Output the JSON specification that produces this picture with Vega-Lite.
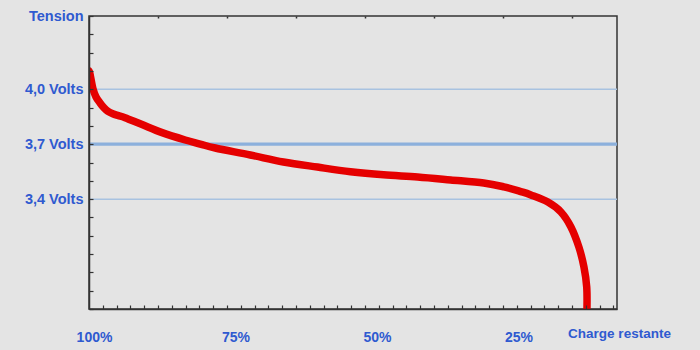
{
  "$schema": "https://vega.github.io/schema/vega-lite/v6.json",
  "width": 528,
  "height": 293,
  "autosize": {"type": "none"},
  "padding": {"left": 89, "top": 16, "right": 83, "bottom": 41},
  "background": "#e4e4e4",
  "view": {"stroke": "#333333", "strokeWidth": 1.5, "fill": "#e4e4e4"},
  "datasets": {
    "curve": [
      {"charge": 100, "volts": 4.100},
      {"charge": 99.82, "volts": 4.083},
      {"charge": 99.29, "volts": 4.001},
      {"charge": 98.76, "volts": 3.958},
      {"charge": 98.05, "volts": 3.925},
      {"charge": 97.34, "volts": 3.898},
      {"charge": 96.64, "volts": 3.879},
      {"charge": 95.80, "volts": 3.866},
      {"charge": 94.80, "volts": 3.856},
      {"charge": 93.63, "volts": 3.845},
      {"charge": 90.62, "volts": 3.807},
      {"charge": 87.08, "volts": 3.763},
      {"charge": 83.00, "volts": 3.723},
      {"charge": 80.35, "volts": 3.701},
      {"charge": 77.69, "volts": 3.679},
      {"charge": 71.50, "volts": 3.641},
      {"charge": 65.65, "volts": 3.603},
      {"charge": 59.63, "volts": 3.575},
      {"charge": 53.79, "volts": 3.550},
      {"charge": 47.95, "volts": 3.533},
      {"charge": 41.93, "volts": 3.521},
      {"charge": 36.09, "volts": 3.505},
      {"charge": 30.25, "volts": 3.488},
      {"charge": 26.70, "volts": 3.467},
      {"charge": 23.69, "volts": 3.441},
      {"charge": 21.92, "volts": 3.423},
      {"charge": 18.92, "volts": 3.384},
      {"charge": 16.61, "volts": 3.330},
      {"charge": 14.84, "volts": 3.248},
      {"charge": 13.43, "volts": 3.138},
      {"charge": 12.54, "volts": 3.029},
      {"charge": 12.05, "volts": 2.920},
      {"charge": 12.01, "volts": 2.790}
    ],
    "thinLines": [{"volts": 4.0}, {"volts": 3.4}],
    "thickLine": [{"volts": 3.7}]
  },
  "encoding": {
    "y": {
      "field": "volts",
      "type": "quantitative",
      "scale": {"domain": [2.8, 4.4], "nice": false, "zero": false},
      "axis": {
        "title": null,
        "grid": false,
        "values": [2.8, 2.9, 3.0, 3.1, 3.2, 3.3, 3.4, 3.5, 3.6, 3.7, 3.8, 3.9, 4.0, 4.1, 4.2, 4.3, 4.4],
        "labelExpr": "datum.value == 4.4 ? 'Tension' : datum.value == 4.0 ? '4,0 Volts' : datum.value == 3.7 ? '3,7 Volts' : datum.value == 3.4 ? '3,4 Volts' : ''",
        "tickSize": -4,
        "tickColor": "#333333",
        "tickWidth": 1.2,
        "domainColor": "#333333",
        "domainWidth": 1.5,
        "labelPadding": 10,
        "labelColor": "#2f5ad0",
        "labelFont": "Liberation Sans",
        "labelFontSize": 14.5,
        "labelFontWeight": "bold",
        "labelOverlap": false,
        "labelFlush": false,
        "labelBound": false,
        "zindex": 1
      }
    }
  },
  "layer": [
    {
      "data": {"name": "thinLines"},
      "mark": {"type": "rule", "color": "#a8c2e0", "strokeWidth": 1.5}
    },
    {
      "data": {"name": "thickLine"},
      "mark": {"type": "rule", "color": "#8cb0dc", "strokeWidth": 3.2}
    },
    {
      "data": {"name": "curve"},
      "mark": {"type": "line", "color": "#e50000", "strokeWidth": 7.5, "clip": true, "strokeJoin": "round", "interpolate": "cardinal"},
      "encoding": {
        "x": {
          "field": "charge",
          "type": "quantitative",
          "sort": null,
          "scale": {"domain": [100, 6.7], "nice": false, "zero": false},
          "axis": {
            "orient": "bottom",
            "title": null,
            "grid": false,
            "values": [100, 97.56, 95.12, 92.69, 90.25, 87.81, 85.37, 82.93, 80.50, 78.06, 75.62, 73.18, 70.74, 68.31, 65.87, 63.43, 60.99, 58.55, 56.12, 53.68, 51.24, 48.80, 46.36, 43.93, 41.49, 39.05, 36.61, 34.17, 31.74, 29.30, 26.86, 24.42, 21.98, 19.54, 17.11, 14.67, 12.23, 9.79, 7.36, 75, 50, 25, 6.7],
            "labelExpr": "datum.value == 100 ? '100%' : datum.value == 75 ? '75%' : datum.value == 50 ? '50%' : datum.value == 25 ? '25%' : datum.value == 6.7 ? 'Charge restante' : ''",
            "tickSize": -4,
            "tickColor": "#333333",
            "tickWidth": 1.2,
            "tickOpacity": {"condition": {"test": "datum.value == 100 || datum.value == 75 || datum.value == 50 || datum.value == 25 || datum.value == 6.7", "value": 0}, "value": 1},
            "domainColor": "#333333",
            "domainWidth": 1.5,
            "labelPadding": {"condition": {"test": "datum.value == 6.7", "value": 21}, "value": 25},
            "labelFontSize": {"condition": {"test": "datum.value == 6.7", "value": 13.5}, "value": 14},
            "labelOffset": {"condition": {"test": "datum.value == 6.7", "value": 2}, "value": 5},
            "labelColor": "#2f5ad0",
            "labelFont": "Liberation Sans",
            "labelFontWeight": "bold",
            "labelOverlap": false,
            "labelFlush": false,
            "labelBound": false,
            "zindex": 1
          }
        }
      }
    },
    {
      "data": {"name": "curve"},
      "mark": {"type": "line", "opacity": 0},
      "encoding": {
        "x": {
          "field": "charge",
          "type": "quantitative",
          "sort": null,
          "axis": {
            "orient": "top",
            "title": null,
            "grid": false,
            "labels": false,
            "domain": false,
            "values": [87.81, 75.62, 63.43, 51.24, 39.05, 26.86, 14.67],
            "tickSize": -2,
            "tickColor": "#333333",
            "tickWidth": 1.5,
            "zindex": 1
          }
        }
      }
    }
  ],
  "resolve": {"axis": {"x": "independent"}}
}
